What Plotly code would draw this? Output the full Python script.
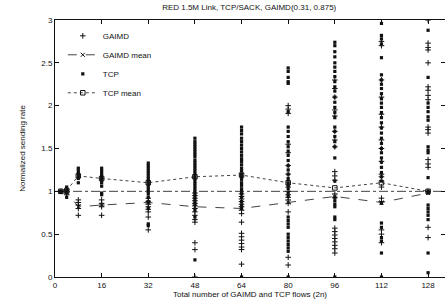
import plotly.graph_objects as go

# ---------------- data ----------------
flows = [2, 4, 8, 16, 32, 48, 64, 80, 96, 112, 128]

tcp_vals = {
    2: [1.0, 0.99],
    4: [1.05, 1.0, 0.93],
    8: [1.27, 1.24, 1.21, 1.18, 1.15, 1.10],
    16: [1.27, 1.24, 1.21, 1.18, 1.16, 1.13, 1.10, 1.06, 0.98, 0.96],
    32: [1.33, 1.30, 1.27, 1.24, 1.21, 1.18, 1.15, 1.12, 1.09, 1.06, 1.03, 1.0,
         0.97, 0.93, 0.88, 0.80, 0.62, 0.60],
    48: [1.62, 1.58, 1.55, 1.52, 1.49, 1.46, 1.43, 1.40, 1.36, 1.33, 1.30, 1.27,
         1.24, 1.21, 1.18, 1.15, 1.12, 1.09, 1.06, 1.03, 1.00, 0.97, 0.94, 0.91,
         0.88, 0.85, 0.78, 0.70, 0.20],
    64: [1.75, 1.71, 1.67, 1.62, 1.58, 1.54, 1.50, 1.46, 1.42, 1.38, 1.35, 1.31,
         1.27, 1.24, 1.20, 1.17, 1.14, 1.10, 1.07, 1.03, 1.0, 0.97, 0.93, 0.88,
         0.84, 0.80, 0.0],
    80: [2.44, 2.40, 2.33, 2.28, 2.26, 1.93, 1.75, 1.70, 1.64, 1.58, 1.52, 1.47,
         1.42, 1.36, 1.30, 1.25, 1.20, 1.15, 1.10, 1.07, 1.03, 0.98, 0.94, 0.70,
         0.66, 0.62, 0.58, 0.50, 0.46, 0.42, 0.38, 0.34, 0.30, 0.0],
    96: [2.74, 2.70, 2.63, 2.57, 2.50, 2.45, 2.40, 2.34, 2.28, 2.22, 2.17, 2.10,
         2.04, 1.98, 1.92, 1.86, 1.75, 1.70, 1.64, 1.58, 1.52, 1.39, 1.12, 0.93,
         0.89, 0.85, 0.82, 0.70, 0.67, 0.0],
    112: [2.96, 2.82, 2.78, 2.72, 2.56, 2.36, 2.30, 2.25, 2.20, 2.14, 2.08, 2.03,
          1.98, 1.92, 1.86, 1.80, 1.74, 1.68, 1.62, 1.56, 1.50, 1.45, 1.39, 1.34,
          1.28, 1.22, 1.17, 1.12, 0.86, 0.63, 0.58, 0.46, 0.42, 0.28, 0.0],
    128: [2.88, 2.33, 2.03, 1.98, 1.93, 1.87, 1.83, 1.52, 1.48, 1.45, 1.16, 1.0,
          0.98, 0.84, 0.80, 0.76, 0.72, 0.67, 0.28, 0.05],
}

gaimd_vals = {
    2: [1.0],
    4: [1.02, 0.98, 0.96],
    8: [0.90, 0.87, 0.84, 0.80, 0.72],
    16: [0.90, 0.86, 0.84, 0.82, 0.72],
    32: [0.92, 0.88, 0.85, 0.82, 0.79, 0.76, 0.70, 0.55],
    48: [0.98, 0.95, 0.92, 0.89, 0.86, 0.83, 0.80, 0.76, 0.72, 0.67, 0.64, 0.40,
         0.32, 0.0],
    64: [0.97, 0.94, 0.91, 0.88, 0.85, 0.82, 0.78, 0.74, 0.64, 0.51, 0.47, 0.43,
         0.39, 0.35, 0.32, 0.15],
    80: [2.0, 1.96, 1.91, 1.55, 1.45, 1.30, 1.20, 1.05, 1.00, 0.96, 0.93, 0.90,
         0.86, 0.76, 0.23, 0.14],
    96: [2.3, 2.2, 2.1, 1.95, 1.88, 1.70, 1.60, 1.52, 1.23, 1.18, 1.13, 0.97,
         0.93, 0.57, 0.53, 0.49, 0.45, 0.41, 0.37, 0.33, 0.28],
    112: [2.75, 2.70, 2.30, 2.10, 1.90, 1.75, 1.60, 1.50, 1.35, 1.20, 1.17, 1.05,
          0.92, 0.88, 0.55, 0.50, 0.40],
    128: [3.0, 2.73, 2.68, 2.65, 2.50, 2.22, 2.18, 2.12, 2.07, 1.75, 1.72, 1.68,
          1.37, 1.32, 1.28, 1.0, 0.58, 0.46],
}

gaimd_mean = [1.0, 0.99, 0.82, 0.84, 0.87, 0.82, 0.80, 0.87, 0.94, 0.87, 0.98]
tcp_mean = [1.0, 1.01, 1.18, 1.15, 1.10, 1.17, 1.19, 1.10, 1.04, 1.10, 1.0]

x_ticks = [0, 16, 32, 48, 64, 80, 96, 112, 128]
y_ticks = [0, 0.5, 1, 1.5, 2, 2.5, 3]
y_tick_labels = ["0", "0.5", "1", "1.5", "2", "2.5", "3"]

title_text = "RED 1.5M Link, TCP/SACK, GAIMD(0.31, 0.875)"
x_title = "Total number of GAIMD and TCP flows (2n)"
y_title = "Normalized sending rate"

# ------------- build flat arrays -------------
gx, gy = [], []
for k in flows:
    gx += [k] * len(gaimd_vals[k])
    gy += gaimd_vals[k]
tx, ty = [], []
for k in flows:
    tx += [k] * len(tcp_vals[k])
    ty += tcp_vals[k]

ink = "#111111"
font_fam = "Liberation Sans, Arial, sans-serif"

fig = go.Figure()
fig.add_trace(go.Scatter(
    x=gx, y=gy, mode="markers", name="GAIMD",
    marker=dict(symbol="cross-thin", size=4, line=dict(width=1, color=ink), color=ink),
))
fig.add_trace(go.Scatter(
    x=flows, y=gaimd_mean, mode="lines+markers", name="GAIMD mean",
    line=dict(color=ink, width=0.8, dash="dash"),
    marker=dict(symbol="x-thin", size=4, line=dict(width=1, color=ink), color=ink),
))
fig.add_trace(go.Scatter(
    x=tx, y=ty, mode="markers", name="TCP",
    marker=dict(symbol="square", size=3.2, color=ink),
))
fig.add_trace(go.Scatter(
    x=flows, y=tcp_mean, mode="lines+markers", name="TCP mean",
    line=dict(color=ink, width=0.8, dash="dot"),
    marker=dict(symbol="square-open", size=4.5, line=dict(width=1, color=ink), color=ink),
))

fig.add_shape(type="line", xref="paper", x0=0, x1=1, yref="y", y0=1, y1=1,
              line=dict(color=ink, width=0.8, dash="dashdot"), layer="below")

axis_common = dict(
    showgrid=False, zeroline=False, showline=True, linecolor=ink, linewidth=1,
    mirror="ticks", ticks="inside", ticklen=4, tickcolor=ink, automargin=False,
    tickfont=dict(size=8, color=ink, family=font_fam),
)

fig.update_layout(
    width=445, height=307,
    margin=dict(l=55, r=0, t=20, b=30),
    paper_bgcolor="white", plot_bgcolor="white",
    title=dict(text=title_text, x=0.56, xanchor="center", y=0.985, yanchor="top",
               font=dict(size=8, color=ink, family=font_fam)),
    font=dict(family=font_fam, color=ink),
    xaxis=dict(range=[0, 133.8], tickvals=x_ticks, ticktext=[str(v) for v in x_ticks],
               title=dict(text=x_title, font=dict(size=8, color=ink), standoff=2),
               **axis_common),
    yaxis=dict(range=[0, 3], tickvals=y_ticks, ticktext=y_tick_labels,
               title=dict(text=y_title, font=dict(size=8, color=ink), standoff=14),
               **axis_common),
    legend=dict(x=0.02, y=0.995, xanchor="left", yanchor="top",
                bgcolor="rgba(255,255,255,0)", font=dict(size=8, color=ink),
                tracegroupgap=0, itemwidth=30),
    showlegend=True,
)

fig.write_html("out.html", config={"displayModeBar": False},
               post_script="document.body.style.margin='0';document.body.style.overflow='hidden';")
